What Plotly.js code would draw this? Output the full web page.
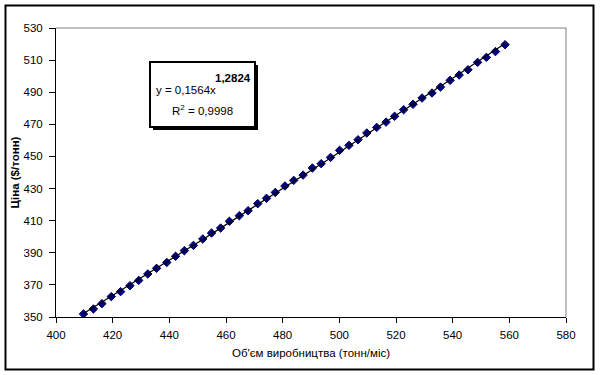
<!DOCTYPE html>
<html>
<head>
<meta charset="utf-8">
<script src="https://cdn.plot.ly/plotly-3.0.1.min.js"></script>
<style>html,body{margin:0;padding:0;background:#fff;}#chart{width:600px;height:375px;}</style>
</head>
<body>
<div id="chart"></div>
<script>
// Volume (tonnes/month)
const volume = [409.7, 413.2, 416.2, 419.5, 422.8, 426.1, 429.2, 432.4, 435.5, 439.1,
  442.2, 445.3, 448.5, 451.8, 454.9, 458.1, 461.2, 464.7, 467.8, 471.2,
  474.3, 477.4, 480.8, 483.9, 487.2, 490.5, 493.6, 496.9, 500.1, 503.4,
  506.6, 509.7, 513.2, 516.5, 519.5, 522.7, 526.0, 529.2, 532.7, 535.7,
  539.1, 542.3, 545.4, 548.8, 551.9, 555.1, 558.5];
// Price ($/tonne)
const price = [351.9, 355.0, 358.3, 362.7, 365.8, 369.5, 372.8, 376.8, 380.3, 384.0,
  387.8, 391.3, 394.6, 398.6, 402.3, 405.4, 409.6, 413.1, 416.2, 420.6,
  423.9, 427.6, 431.6, 435.1, 438.4, 442.8, 445.5, 449.4, 453.8, 456.9,
  460.4, 464.6, 468.1, 471.4, 475.0, 479.1, 482.5, 486.4, 489.5, 493.2,
  497.4, 500.7, 504.0, 508.6, 511.7, 515.3, 519.6];
const xTicks = [400, 420, 440, 460, 480, 500, 520, 540, 560, 580];
const yTicks = [350, 370, 390, 410, 430, 450, 470, 490, 510, 530];
const xTitle = "Об'єм виробництва (тонн/міс)";
const yTitle = "Ціна ($/тонн)";
const eqText = "y = 0,1564x";
const eqExp = "1,2824";
const r2Text = "R<sup>2</sup> = 0,9998";

// Power trendline fitted from the data (least squares on logs)
const lx = volume.map(Math.log), ly = price.map(Math.log);
const n = lx.length;
const mx = lx.reduce((a,b)=>a+b,0)/n, my = ly.reduce((a,b)=>a+b,0)/n;
let sxy=0, sxx=0;
for (let i=0;i<n;i++){ sxy += (lx[i]-mx)*(ly[i]-my); sxx += (lx[i]-mx)*(lx[i]-mx); }
const bExp = sxy/sxx, aCoef = Math.exp(my - bExp*mx);
const trendY = volume.map(v => aCoef*Math.pow(v, bExp));

// pixel -> paper helpers (plot area 56..566 x, 28..317 y)
const L=56, R=566, T=28, B=317;
const px = p => (p-L)/(R-L);
const py = p => (B-p)/(B-T);

const fam = "Liberation Sans, Arial, sans-serif";
const tickFont = {family: fam, size: 11.5, color: "#000"};

const data = [
  {x: volume, y: price, type: "scatter", mode: "markers",
   marker: {symbol: "diamond", size: 6.5, color: "#000080", line: {color: "#000060", width: 1}},
   hoverinfo: "x+y"},
  {x: volume, y: trendY, type: "scatter", mode: "lines",
   line: {color: "#000", width: 1.2}, hoverinfo: "skip"}
];

const layout = {
  width: 600, height: 375,
  margin: {l: L, r: 600-R, t: T, b: 375-B},
  paper_bgcolor: "#fff", plot_bgcolor: "#fff",
  showlegend: false,
  font: {family: fam, size: 11, color: "#000"},
  xaxis: {range: [400, 580], tickvals: xTicks, ticktext: xTicks.map(String),
    showgrid: false, zeroline: false, showline: true, linecolor: "#000", linewidth: 1,
    ticks: "outside", ticklen: 5, tickcolor: "#000", tickfont: tickFont, ticklabelstandoff: 2,
    title: {text: xTitle, font: {family: fam, size: 11.5, color: "#000"}, standoff: 9}},
  yaxis: {range: [350, 530], tickvals: yTicks, ticktext: yTicks.map(String),
    showgrid: false, zeroline: false, showline: true, linecolor: "#000", linewidth: 1,
    ticks: "outside", ticklen: 6, tickcolor: "#000", tickfont: tickFont, ticklabelstandoff: 4,
    title: {text: "<b>" + yTitle + "</b>", font: {family: fam, size: 11.5, color: "#000"}, standoff: 1}},
  shapes: [
    // plot area gray top/right border
    {type: "line", xref: "paper", yref: "paper", x0: 0, x1: 1, y0: 1, y1: 1, line: {color: "#808080", width: 1}},
    {type: "line", xref: "paper", yref: "paper", x0: 1, x1: 1, y0: 0, y1: 1, line: {color: "#808080", width: 1}},
    // outer chart border
    {type: "rect", xref: "paper", yref: "paper", x0: px(5.5), x1: px(593.5), y0: py(5.5), y1: py(369.5),
     line: {color: "#000", width: 2}, layer: "above"},
    // equation box shadow
    {type: "rect", xref: "paper", yref: "paper", x0: px(153), x1: px(258), y0: py(65), y1: py(130),
     fillcolor: "#000", line: {color: "#000", width: 0}, layer: "above"},
    // equation box
    {type: "rect", xref: "paper", yref: "paper", x0: px(150), x1: px(255), y0: py(62), y1: py(127),
     fillcolor: "#fff", line: {color: "#000", width: 2}, layer: "above"}
  ],
  annotations: [
    {xref: "paper", yref: "paper", x: px(154), y: py(90), xanchor: "left", yanchor: "middle",
     text: eqText, showarrow: false, font: {family: fam, size: 11.5, color: "#000"}},
    {xref: "paper", yref: "paper", x: px(213), y: py(78), xanchor: "left", yanchor: "middle",
     text: "<b>" + eqExp + "</b>", showarrow: false, font: {family: fam, size: 11.5, color: "#000"}},
    {xref: "paper", yref: "paper", x: px(170), y: py(110), xanchor: "left", yanchor: "middle",
     text: r2Text, showarrow: false, font: {family: fam, size: 11.5, color: "#000"}}
  ]
};

Plotly.newPlot("chart", data, layout, {displayModeBar: false, staticPlot: true});
</script>
</body>
</html>
